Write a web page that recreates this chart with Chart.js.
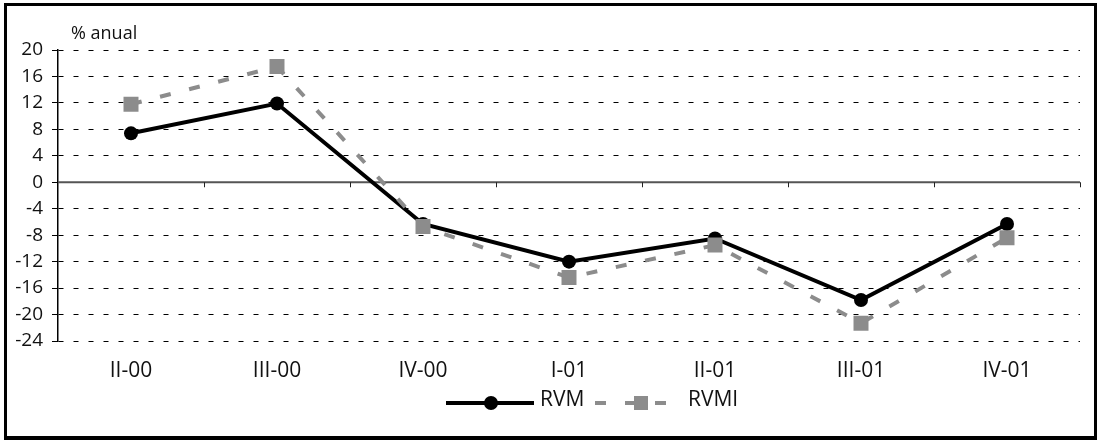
<!DOCTYPE html>
<html>
<head>
<meta charset="utf-8">
<script src="https://cdn.jsdelivr.net/npm/chart.js@4/dist/chart.umd.min.js"></script>
<style>
    html, body { margin: 0; padding: 0; background: #fff; }
    #wrap { position: relative; width: 1098px; height: 440px; }
    #marco { position: absolute; left: 4px; top: 3px; right: 1px; bottom: 0; border: 3px solid #000; border-bottom-width: 4px; box-sizing: border-box; pointer-events: none; }
</style>
</head>
<body>
<div id="wrap">
    <canvas id="grafico" width="1098" height="440"></canvas>
    <div id="marco"></div>
</div>
<script>
// Datos del gráfico
const trimestres = ['II-00', 'III-00', 'IV-00', 'I-01', 'II-01', 'III-01', 'IV-01'];
const rvm = [7.4, 11.9, -6.3, -12.0, -8.5, -17.8, -6.3];
const rvmi = [11.8, 17.5, -6.7, -14.4, -9.5, -21.3, -8.4];
const ticksY = [-24, -20, -16, -12, -8, -4, 0, 4, 8, 12, 16, 20];

const FUENTE = '"Open Sans", "Noto Sans", sans-serif';

// Línea del cero, marcas de categoría, título del eje y leyenda
const extras = {
    id: 'extras',
    beforeDatasetsDraw(chart) {
        const { ctx, chartArea, scales } = chart;
        const x = scales.x, y = scales.y;
        const y0 = y.getPixelForValue(0);
        ctx.save();
        ctx.strokeStyle = '#555';
        ctx.lineWidth = 2;
        ctx.beginPath();
        ctx.moveTo(chartArea.left, y0);
        ctx.lineTo(chartArea.right, y0);
        ctx.stroke();
        ctx.lineWidth = 1;
        ctx.strokeStyle = '#222';
        ctx.beginPath();
        for (let i = 1; i <= trimestres.length; i++) {
            const px = i < trimestres.length
                ? (x.getPixelForValue(i - 1) + x.getPixelForValue(i)) / 2
                : chartArea.right - 0.5;
            ctx.moveTo(Math.round(px) + 0.5, y0);
            ctx.lineTo(Math.round(px) + 0.5, y0 + 5);
        }
        ctx.stroke();
        ctx.restore();
    },
    afterDraw(chart) {
        const { ctx } = chart;
        ctx.save();
        ctx.font = '18px ' + FUENTE;
        ctx.fillStyle = '#111';
        ctx.textBaseline = 'alphabetic';
        ctx.fillText('% anual', 71, 39);

        // Leyenda
        const ly = 403;
        ctx.strokeStyle = '#000';
        ctx.lineWidth = 4;
        ctx.beginPath();
        ctx.moveTo(446, ly);
        ctx.lineTo(534, ly);
        ctx.stroke();
        ctx.fillStyle = '#000';
        ctx.beginPath();
        ctx.arc(491, ly, 7, 0, Math.PI * 2);
        ctx.fill();

        ctx.strokeStyle = '#8c8c8c';
        ctx.setLineDash([11, 19]);
        ctx.beginPath();
        ctx.moveTo(595, ly);
        ctx.lineTo(668, ly);
        ctx.stroke();
        ctx.setLineDash([]);
        ctx.fillStyle = '#8c8c8c';
        ctx.fillRect(634, ly - 7, 14, 14);

        ctx.font = '21px ' + FUENTE;
        ctx.fillStyle = '#111';
        ctx.textBaseline = 'middle';
        ctx.fillText('RVM', 540, 400);
        ctx.fillText('RVMI', 688, 400);
        ctx.restore();
    }
};

document.addEventListener('DOMContentLoaded', function () {
    const ctx = document.getElementById('grafico').getContext('2d');

    new Chart(ctx, {
        type: 'line',
        data: {
            labels: trimestres,
            datasets: [
                {
                    label: 'RVM',
                    data: rvm,
                    borderColor: '#000',
                    backgroundColor: '#000',
                    borderWidth: 4,
                    pointStyle: 'circle',
                    pointRadius: 7,
                    pointBorderWidth: 0,
                    tension: 0,
                    order: 1,
                },
                {
                    label: 'RVMI',
                    data: rvmi,
                    borderColor: '#8c8c8c',
                    backgroundColor: '#8c8c8c',
                    borderWidth: 4,
                    borderDash: [11, 19],
                    pointStyle: 'rect',
                    pointRadius: 10.6,
                    pointBorderWidth: 0,
                    tension: 0,
                    order: 0,
                },
            ],
        },
        options: {
            responsive: false,
            animation: false,
            layout: { padding: { left: 0, top: 50, right: 18, bottom: 59 } },
            plugins: {
                legend: { display: false },
                tooltip: { enabled: false },
            },
            scales: {
                x: {
                    offset: true,
                    grid: { display: false },
                    border: { display: false },
                    ticks: { color: '#111', font: { family: FUENTE, size: 21 }, padding: 9, maxRotation: 0, autoSkip: false },
                    afterFit(scale) { scale.height = 40; },
                },
                y: {
                    min: -24,
                    max: 20,
                    afterBuildTicks(scale) { scale.ticks = ticksY.map(v => ({ value: v })); },
                    grid: {
                        color: c => (c.tick && c.tick.value === 0) ? 'rgba(0,0,0,0)' : '#000',
                        lineWidth: 1,
                        tickColor: '#000',
                        tickLength: 6,
                        tickBorderDash: [],
                    },
                    border: { display: true, color: '#000', width: 1.5, dash: [5, 10] },
                    ticks: { color: '#111', font: { family: FUENTE, size: 19 }, padding: 9 },
                    afterFit(scale) { scale.width = 58; },
                },
            },
        },
        plugins: [extras],
    });
});
</script>
</body>
</html>
